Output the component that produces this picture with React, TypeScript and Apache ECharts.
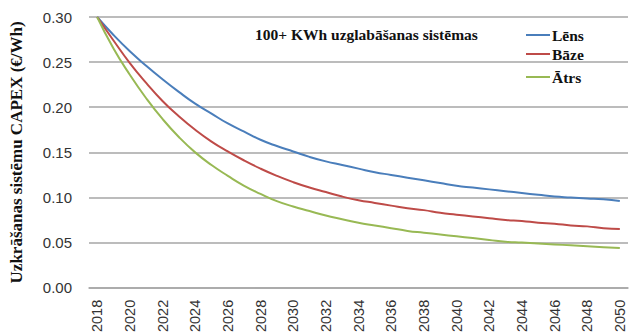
import React, { useEffect, useRef } from "react";
import * as echarts from "echarts";

const years = [
  "2018", "2019", "2020", "2021", "2022", "2023", "2024", "2025", "2026", "2027", "2028",
  "2029", "2030", "2031", "2032", "2033", "2034", "2035", "2036", "2037", "2038", "2039",
  "2040", "2041", "2042", "2043", "2044", "2045", "2046", "2047", "2048", "2049", "2050",
];

const lens = [
  0.300, 0.280, 0.262, 0.246, 0.231, 0.217, 0.204, 0.193, 0.182, 0.173, 0.164,
  0.157, 0.151, 0.145, 0.140, 0.136, 0.132, 0.128, 0.125, 0.122, 0.119, 0.116,
  0.113, 0.111, 0.109, 0.107, 0.105, 0.103, 0.101, 0.100, 0.099, 0.098, 0.096,
];

const baze = [
  0.300, 0.274, 0.249, 0.227, 0.207, 0.190, 0.175, 0.162, 0.151, 0.141, 0.132,
  0.124, 0.117, 0.111, 0.106, 0.101, 0.097, 0.094, 0.091, 0.088, 0.086, 0.083,
  0.081, 0.079, 0.077, 0.075, 0.074, 0.072, 0.071, 0.069, 0.068, 0.066, 0.065,
];

const atrs = [
  0.300, 0.265, 0.236, 0.210, 0.187, 0.167, 0.150, 0.136, 0.124, 0.113, 0.104,
  0.096, 0.090, 0.085, 0.080, 0.076, 0.072, 0.069, 0.066, 0.063, 0.061, 0.059,
  0.057, 0.055, 0.053, 0.051, 0.050, 0.049, 0.048, 0.047, 0.046, 0.045, 0.044,
];

const seriesNames = ["Lēns", "Bāze", "Ātrs"];
const colors = ["#4a7ebb", "#be4b48", "#98b954"];
const yTicks = [0, 0.05, 0.1, 0.15, 0.2, 0.25, 0.3];

const serif = "'Liberation Serif', 'DejaVu Serif', serif";
const sans = "'Liberation Sans', Arial, sans-serif";

export default function App() {
  const ref = useRef<HTMLDivElement>(null);

  useEffect(() => {
    if (!ref.current) return;
    document.body.style.margin = "0";
    const chart = echarts.init(ref.current, null, { renderer: "svg" });
    const dataSets = [lens, baze, atrs];
    const legendTops = [27, 46, 69];
    chart.setOption({
      animation: false,
      backgroundColor: "#ffffff",
      grid: { left: 88, right: 1, top: 17, bottom: 47, containLabel: false },
      title: {
        text: "100+ KWh uzglabāšanas sistēmas",
        left: 255,
        top: 26,
        padding: 0,
        textStyle: { fontFamily: serif, fontWeight: "bold", fontSize: 15.5, color: "#111" },
      },
      legend: seriesNames.map((n, i) => ({
        data: [n],
        left: 526,
        top: legendTops[i],
        icon: "rect",
        itemWidth: 24,
        itemHeight: 2,
        itemGap: 2,
        textStyle: { fontFamily: serif, fontWeight: "bold", fontSize: 15.5, color: "#111", padding: [0, 0, 0, -3] },
        padding: 0,
      })),
      xAxis: {
        type: "category",
        data: years,
        boundaryGap: true,
        axisLine: { lineStyle: { color: "#a6a6a6", width: 1.5 } },
        axisTick: { show: false },
        axisLabel: {
          interval: 1,
          rotate: 90,
          margin: 12,
          fontFamily: sans,
          fontSize: 14.5,
          color: "#333",
        },
        splitLine: { show: false },
      },
      yAxis: {
        type: "value",
        min: 0,
        max: 0.3,
        interval: 0.05,
        name: "Uzkrāšanas sistēmu CAPEX (€/Wh)",
        nameLocation: "middle",
        nameRotate: 90,
        nameGap: 64,
        nameTextStyle: { fontFamily: serif, fontWeight: "bold", fontSize: 17, color: "#111" },
        axisLine: { show: false },
        axisTick: { show: false },
        axisLabel: {
          margin: 17,
          fontFamily: sans,
          fontSize: 15,
          color: "#333",
          formatter: (v: number) => (yTicks.some((t) => Math.abs(t - v) < 1e-9) ? v.toFixed(2) : ""),
        },
        splitLine: { lineStyle: { color: "#a6a6a6", width: 1.5 } },
      },
      series: seriesNames.map((n, i) => ({
        name: n,
        type: "line",
        data: dataSets[i],
        smooth: true,
        showSymbol: false,
        symbol: "none",
        lineStyle: { color: colors[i], width: 2 },
        itemStyle: { color: colors[i] },
      })),
    });
    return () => chart.dispose();
  }, []);

  return <div ref={ref} style={{ width: 629, height: 335 }} />;
}
